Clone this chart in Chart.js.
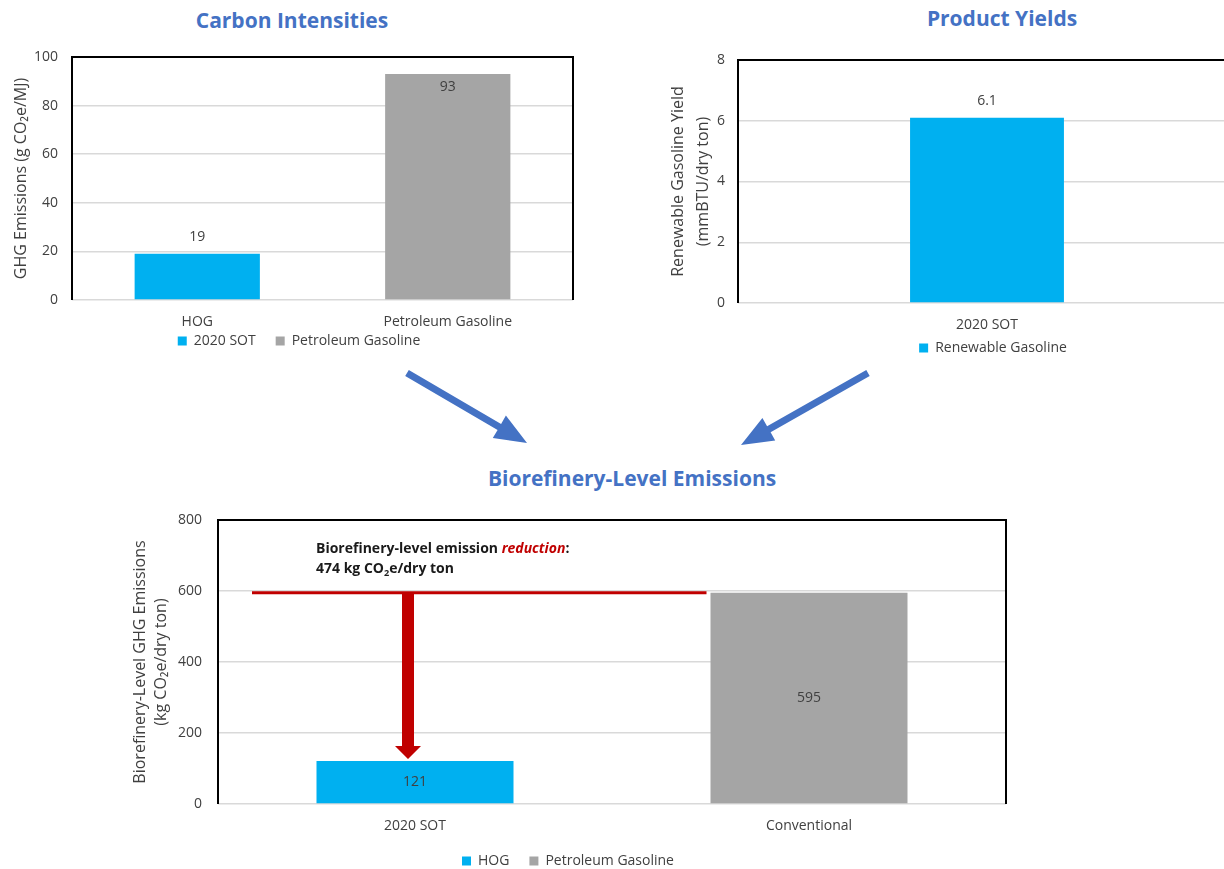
<!DOCTYPE html>
<html>
<head>
<meta charset="utf-8">
<script src="https://cdn.jsdelivr.net/npm/chart.js@4.4.1/dist/chart.umd.min.js"></script>
<style>
  html, body { margin: 0; padding: 0; background: #fff; }
  body { width: 1224px; height: 869px; position: relative; overflow: hidden; font-family: 'Open Sans', sans-serif; }
  .panel { position: absolute; }
  .heading { position: absolute; color: #4472C4; font-weight: 700; font-size: 21px; line-height: 28px; text-align: center; white-space: nowrap; width: 400px; }
  #flow { position: absolute; left: 0; top: 0; pointer-events: none; }
</style>
</head>
<body>
<div class="heading" style="left:92px; top:6px;">Carbon Intensities</div>
<div class="heading" style="left:802px; top:4px;">Product Yields</div>
<div class="heading" style="left:432px; top:464px;">Biorefinery-Level Emissions</div>

<div class="panel" style="left:0px; top:40px;"><canvas id="ciChart" width="600" height="345"></canvas></div>
<div class="panel" style="left:640px; top:40px;"><canvas id="pyChart" width="610" height="350"></canvas></div>
<div class="panel" style="left:120px; top:500px;"><canvas id="beChart" width="920" height="380"></canvas></div>

<svg id="flow" width="1224" height="869"></svg>

<script>
// ---- Carbon intensities (g CO2e/MJ) ----
const ciCategories = ['HOG', 'Petroleum Gasoline'];
const ciSeriesNames = ['2020 SOT', 'Petroleum Gasoline'];
const ciSot = [19, null];
const ciPetroleum = [null, 93];
const ciTicks = [0, 20, 40, 60, 80, 100];

// ---- Product yields (mmBTU/dry ton) ----
const pyCategories = ['2020 SOT'];
const pySeriesNames = ['Renewable Gasoline'];
const pyRenewable = [6.1];
const pyTicks = [0, 2, 4, 6, 8];

// ---- Biorefinery-level emissions (kg CO2e/dry ton) ----
const beCategories = ['2020 SOT', 'Conventional'];
const beSeriesNames = ['HOG', 'Petroleum Gasoline'];
const beHog = [121, null];
const bePetroleum = [null, 595];
const beTicks = [0, 200, 400, 600, 800];

const FONT = "'Open Sans', sans-serif";
const TEXT = '#404040';
const BLUE = '#00B0F0';
const GREY = '#A5A5A5';
const GRID = '#D9D9D9';
const LABEL_SIZE = 14;
const TITLE_SIZE = 16;

// Black frame on the left, top and right of the plot area
const plotFrame = {
  id: 'plotFrame',
  beforeDatasetsDraw(chart) {
    const { ctx, chartArea: a } = chart;
    ctx.save();
    ctx.strokeStyle = '#000';
    ctx.lineWidth = 2;
    ctx.beginPath();
    ctx.moveTo(a.left, a.bottom);
    ctx.lineTo(a.left, a.top);
    ctx.lineTo(a.right, a.top);
    ctx.lineTo(a.right, a.bottom);
    ctx.stroke();
    ctx.restore();
  }
};

// Moves the legend row so its centre sits at (cx, cy) in canvas pixels
const legendPlacer = {
  id: 'legendPlacer',
  afterLayout(chart, args, opts) {
    const lg = chart.legend;
    if (!lg || opts.cx == null) return;
    const pad = lg.options.labels.padding;
    const dx = opts.cx - (lg.left + lg.right) / 2;
    const dy = (opts.cy - pad - LABEL_SIZE / 2) - lg.top;
    lg.left += dx; lg.right += dx;
    lg.top += dy; lg.bottom += dy;
  }
};

// Value labels: above the bar (or just inside when there is no room), or centred in the bar
const valueLabels = {
  id: 'valueLabels',
  afterDatasetsDraw(chart, args, opts) {
    const { ctx, chartArea } = chart;
    ctx.save();
    ctx.font = LABEL_SIZE + 'px ' + FONT;
    ctx.fillStyle = TEXT;
    ctx.textAlign = 'center';
    ctx.textBaseline = 'middle';
    chart.data.datasets.forEach((ds, i) => {
      chart.getDatasetMeta(i).data.forEach((bar, j) => {
        const v = ds.data[j];
        if (v == null) return;
        let y;
        if (opts.mode === 'center') {
          y = (bar.y + bar.base) / 2;
        } else {
          y = bar.y - 17;
          if (y - LABEL_SIZE / 2 < chartArea.top) y = bar.y + 13;
        }
        ctx.fillText(String(v), bar.x, y);
      });
    });
    ctx.restore();
  }
};

// Red reference line at the conventional level with a drop arrow to the HOG bar
const reductionMarker = {
  id: 'reductionMarker',
  afterDatasetsDraw(chart) {
    const { ctx, chartArea: a, scales: { y } } = chart;
    const hogBar = chart.getDatasetMeta(0).data[0];
    const convBar = chart.getDatasetMeta(1).data[1];
    const high = bePetroleum[1];
    const low = beHog[0];
    const yHigh = y.getPixelForValue(high);
    const yLow = y.getPixelForValue(low);
    const red = '#C00000';

    ctx.save();
    // level line
    ctx.strokeStyle = red;
    ctx.lineWidth = 3;
    ctx.beginPath();
    ctx.moveTo(a.left + 34, yHigh);
    ctx.lineTo(convBar.x - convBar.width / 2 - 4, yHigh);
    ctx.stroke();

    // drop arrow
    const ax = hogBar.x - 7;
    const tip = yLow - 2;
    const headBase = tip - 13;
    ctx.fillStyle = red;
    ctx.beginPath();
    ctx.moveTo(ax - 6, yHigh);
    ctx.lineTo(ax + 6, yHigh);
    ctx.lineTo(ax + 6, headBase);
    ctx.lineTo(ax + 13, headBase);
    ctx.lineTo(ax, tip);
    ctx.lineTo(ax - 13, headBase);
    ctx.lineTo(ax - 6, headBase);
    ctx.closePath();
    ctx.fill();

    // callout text
    const size = 14;
    const bold = '700 ' + size + 'px ' + FONT;
    const boldItalic = 'italic 700 ' + size + 'px ' + FONT;
    const sub = '700 ' + (size * 0.65) + 'px ' + FONT;
    let x = a.left + 98;
    const y1 = a.top + 29;
    const y2 = a.top + 49;
    ctx.textBaseline = 'middle';
    ctx.textAlign = 'left';
    const put = (text, font, color, yy) => {
      ctx.font = font; ctx.fillStyle = color;
      ctx.fillText(text, x, yy);
      x += ctx.measureText(text).width;
    };
    put('Biorefinery-level emission ', bold, '#1a1a1a', y1);
    put('reduction', boldItalic, red, y1);
    put(':', bold, '#1a1a1a', y1);
    x = a.left + 98;
    put((high - low) + ' kg CO', bold, '#1a1a1a', y2);
    put('2', sub, '#1a1a1a', y2 + 4);
    put('e/dry ton', bold, '#1a1a1a', y2);
    ctx.restore();
  }
};

function barChart(id, p) {
  const stepOf = t => t[1] - t[0];
  const chart = new Chart(document.getElementById(id), {
    type: 'bar',
    data: {
      labels: p.categories,
      datasets: p.series.map(s => ({
        label: s.name,
        data: s.values,
        backgroundColor: s.color,
        borderWidth: 0,
        skipNull: true,
        categoryPercentage: p.catPct,
        barPercentage: 1
      }))
    },
    options: {
      responsive: false,
      animation: false,
      devicePixelRatio: 1,
      layout: { padding: { top: p.area.top, right: p.padRight, bottom: 10, left: 0 } },
      scales: {
        x: {
          grid: { display: false, drawTicks: false },
          border: { display: false },
          ticks: { color: TEXT, font: { family: FONT, size: LABEL_SIZE }, padding: 14, maxRotation: 0 },
          afterFit: s => { s.height = 34; }
        },
        y: {
          min: p.ticks[0],
          max: p.ticks[p.ticks.length - 1],
          grid: { color: GRID, lineWidth: 1.5, drawTicks: false },
          border: { display: false },
          ticks: { stepSize: stepOf(p.ticks), color: TEXT, font: { family: FONT, size: LABEL_SIZE }, padding: p.tickPad },
          title: {
            display: true,
            text: p.yTitle,
            color: TEXT,
            font: { family: FONT, size: TITLE_SIZE, lineHeight: p.titleLH },
            padding: { top: p.titlePad, bottom: 0 }
          },
          afterFit: s => {
            s.width = p.yWidth;
            // end labels only need half their own height above/below the plot
            s.paddingTop = 9;
            s.paddingBottom = 9;
          }
        }
      },
      plugins: {
        legend: {
          position: 'bottom',
          maxHeight: 40,
          labels: { boxWidth: 9, boxHeight: 9, padding: 20, color: TEXT, font: { family: FONT, size: LABEL_SIZE } }
        },
        tooltip: { enabled: false },
        legendPlacer: p.legendAt,
        valueLabels: { mode: p.labelMode }
      }
    },
    plugins: [plotFrame, legendPlacer, valueLabels].concat(p.extra || [])
  });
  // settle the plot area on the intended top/bottom edges
  const a = chart.chartArea;
  const pad = chart.config.options.layout.padding;
  pad.top += p.area.top - a.top;
  pad.bottom += a.bottom - p.area.bottom;
  chart.update('none');
  return chart;
}

barChart('ciChart', {
  categories: ciCategories,
  series: [
    { name: ciSeriesNames[0], values: ciSot, color: BLUE },
    { name: ciSeriesNames[1], values: ciPetroleum, color: GREY }
  ],
  ticks: ciTicks,
  catPct: 0.5,
  area: { top: 17, bottom: 260 },
  padRight: 27,
  yWidth: 72, tickPad: 14,
  yTitle: 'GHG Emissions (g CO₂e/MJ)', titleLH: 1.25, titlePad: 11,
  legendAt: { cx: 299, cy: 301 },
  labelMode: 'end'
});

barChart('pyChart', {
  categories: pyCategories,
  series: [{ name: pySeriesNames[0], values: pyRenewable, color: BLUE }],
  ticks: pyTicks,
  catPct: 0.309,
  area: { top: 20, bottom: 263 },
  padRight: 14,
  yWidth: 98, tickPad: 13,
  yTitle: ['Renewable Gasoline Yield', '(mmBTU/dry ton)'], titleLH: 1.5625, titlePad: 25.5,
  legendAt: { cx: 353, cy: 308 },
  labelMode: 'end'
});

barChart('beChart', {
  categories: beCategories,
  series: [
    { name: beSeriesNames[0], values: beHog, color: BLUE },
    { name: beSeriesNames[1], values: bePetroleum, color: GREY }
  ],
  ticks: beTicks,
  catPct: 0.5,
  area: { top: 20, bottom: 304 },
  padRight: 34,
  yWidth: 98, tickPad: 16,
  yTitle: ['Biorefinery-Level GHG Emissions', '(kg CO₂e/dry ton)'], titleLH: 1.344, titlePad: 9.25,
  legendAt: { cx: 448, cy: 361 },
  labelMode: 'center',
  extra: [reductionMarker]
});

// Blue flow arrows linking the two upper panels to the lower one
(function drawFlowArrows() {
  const svg = document.getElementById('flow');
  const arrows = [
    { from: [407, 373], to: [527, 443] },
    { from: [868, 373], to: [741, 445] }
  ];
  const shaft = 7, headLen = 32, headWidth = 26;
  arrows.forEach(({ from, to }) => {
    const dx = to[0] - from[0], dy = to[1] - from[1];
    const len = Math.hypot(dx, dy);
    const ux = dx / len, uy = dy / len;
    const nx = -uy, ny = ux;
    const bx = to[0] - ux * headLen, by = to[1] - uy * headLen;
    const pts = [
      [from[0] + nx * shaft / 2, from[1] + ny * shaft / 2],
      [bx + nx * shaft / 2, by + ny * shaft / 2],
      [bx + nx * headWidth / 2, by + ny * headWidth / 2],
      to,
      [bx - nx * headWidth / 2, by - ny * headWidth / 2],
      [bx - nx * shaft / 2, by - ny * shaft / 2],
      [from[0] - nx * shaft / 2, from[1] - ny * shaft / 2]
    ];
    const poly = document.createElementNS('http://www.w3.org/2000/svg', 'polygon');
    poly.setAttribute('points', pts.map(q => q[0].toFixed(1) + ',' + q[1].toFixed(1)).join(' '));
    poly.setAttribute('fill', '#4472C4');
    svg.appendChild(poly);
  });
})();
</script>
</body>
</html>
